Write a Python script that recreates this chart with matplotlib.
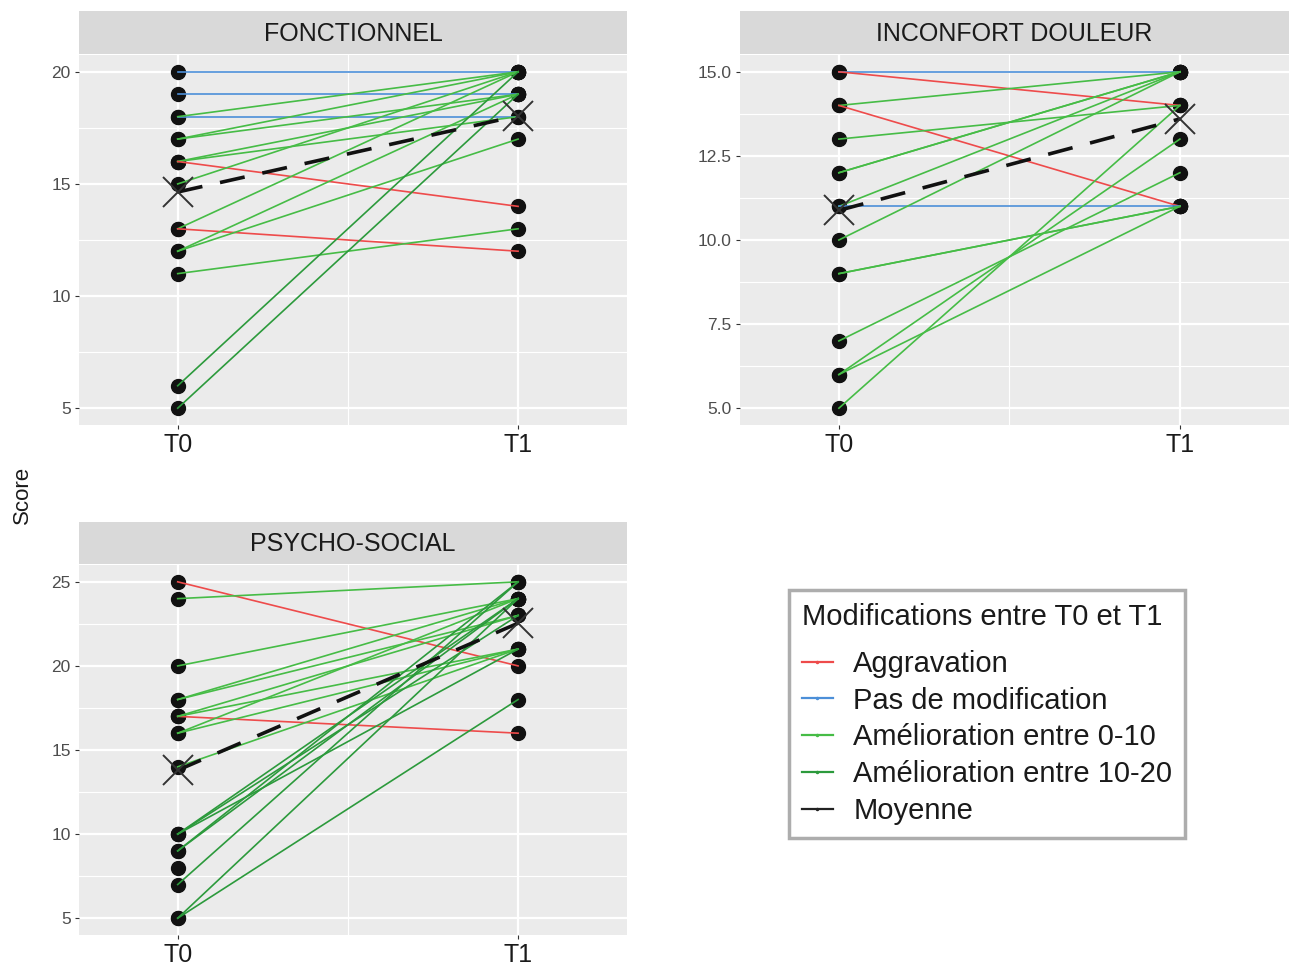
import matplotlib
matplotlib.use("Agg")
import matplotlib.pyplot as plt
from matplotlib.lines import Line2D
import numpy as np

plt.rcParams['font.family'] = ['Liberation Sans', 'DejaVu Sans']

# --- données ---
times = ["T0", "T1"]

fonc_t0 = [20, 19, 18, 18, 17, 17, 16, 16, 16, 15, 13, 13, 12, 12, 11, 6, 5]
fonc_t1 = [20, 19, 18, 20, 20, 19, 19, 18, 14, 20, 20, 12, 19, 17, 13, 20, 19]
fonc_mean = [14.64, 18.04]

douleur_t0 = [15, 15, 14, 14, 13, 12, 12, 11, 11, 10, 9, 9, 7, 6, 6, 5]
douleur_t1 = [15, 14, 15, 11, 14, 15, 15, 15, 11, 15, 11, 11, 12, 13, 11, 14]
douleur_mean = [10.88, 13.6]

psy_t0 = [25, 24, 20, 18, 18, 17, 17, 17, 16, 16, 14, 10, 10, 10, 9, 9, 8, 7, 5, 5]
psy_t1 = [20, 25, 24, 24, 23, 16, 23, 21, 24, 21, 21, 23, 24, 21, 24, 25, np.nan, 25, 24, 18]
psy_mean = [13.8, 22.54]

panel_titles = ["FONCTIONNEL", "INCONFORT DOULEUR", "PSYCHO-SOCIAL"]
legend_title = "Modifications entre T0 et T1"
legend_labels = ["Aggravation", "Pas de modification", "Amélioration entre 0-10",
                 "Amélioration entre 10-20", "Moyenne"]
colors = ["#EE4B4B", "#4C8FD8", "#46BC46", "#2C9A3C", "#222222"]

W, H = 1295, 969
fig = plt.figure(figsize=(W / 100, H / 100), dpi=100)


def px_axes(x0, y0, x1, y1):
    return fig.add_axes([x0 / W, 1 - y1 / H, (x1 - x0) / W, (y1 - y0) / H])


def category(a, b):
    d = b - a
    if d < 0:
        return 0
    if d == 0:
        return 1
    if d <= 10:
        return 2
    return 3


def draw_panel(box, strip, title, t0, t1, mean, ylim, yticks, yfmt):
    ax = px_axes(*box)
    ax.set_facecolor("#EBEBEB")
    for s in ax.spines.values():
        s.set_visible(False)
    ax.set_xticks([0, 1])
    ax.set_xticklabels(times, fontsize=18, color="#1A1A1A")
    ax.set_xticks([0.5], minor=True)
    ax.set_yticks(yticks)
    ax.set_yticklabels([yfmt.format(v) for v in yticks], fontsize=12.5, color="#4D4D4D")
    step = yticks[1] - yticks[0]
    ax.set_yticks([v + step / 2 for v in yticks[:-1]], minor=True)
    ax.tick_params(which="major", length=3, color="#333333", pad=3)
    ax.tick_params(which="minor", length=0)
    ax.grid(which="major", color="white", linewidth=1.6)
    ax.grid(which="minor", color="white", linewidth=0.8)
    ax.set_axisbelow(True)

    for a, b in zip(t0, t1):
        ax.plot([0], [a], "o", color="#111111", ms=10, zorder=2)
        if np.isnan(b):
            continue
        ax.plot([1], [b], "o", color="#111111", ms=10, zorder=2)
        ax.plot([0, 1], [a, b], color=colors[category(a, b)], lw=1.2, zorder=3)

    ax.plot([0, 1], mean, color="#111111", lw=2.6, dashes=(7, 5), zorder=4)
    ax.plot([0, 1], mean, "x", color="#333333", ms=22, mew=1.4, zorder=5)
    ax.set_xlim(-0.29, 1.32)
    ax.set_ylim(*ylim)

    sx = px_axes(*strip)
    sx.set_facecolor("#D9D9D9")
    sx.set_xticks([])
    sx.set_yticks([])
    for s in sx.spines.values():
        s.set_visible(False)
    sx.text(0.5, 0.47, title, ha="center", va="center", fontsize=18, color="#1A1A1A",
            transform=sx.transAxes)
    return ax


draw_panel((79, 55, 627, 425), (79, 11, 627, 54), panel_titles[0],
           fonc_t0, fonc_t1, fonc_mean, (4.25, 20.75), [5, 10, 15, 20], "{:d}")
draw_panel((740, 55, 1289, 425), (740, 11, 1289, 54), panel_titles[1],
           douleur_t0, douleur_t1, douleur_mean, (4.5, 15.5), [5.0, 7.5, 10.0, 12.5, 15.0], "{:.1f}")
draw_panel((79, 565, 627, 935), (79, 522, 627, 564), panel_titles[2],
           psy_t0, psy_t1, psy_mean, (4, 26), [5, 10, 15, 20, 25], "{:d}")

fig.text(22 / W, 1 - 495 / H, "Score", rotation=90, ha="center", va="center",
         fontsize=16, color="#1A1A1A")

handles = [Line2D([], [], color=c, lw=1.6, marker="o", ms=1.5) for c in colors]
leg = fig.legend(handles, legend_labels, title=legend_title, loc="upper left",
                 bbox_to_anchor=(789 / W, 1 - 590 / H), borderaxespad=0,
                 fontsize=21, title_fontsize=21,
                 frameon=True, fancybox=False, handlelength=1.05, handletextpad=0.7,
                 labelspacing=0.3, borderpad=0.45, alignment="left")
leg._legend_box.sep = 13.5  # a bit more room under the title
leg.get_frame().set_edgecolor("#999999")
leg.get_frame().set_linewidth(2.5)
leg.get_title().set_color("#1A1A1A")
for t in leg.get_texts():
    t.set_color("#1A1A1A")

fig.savefig("out.png", dpi=100)
